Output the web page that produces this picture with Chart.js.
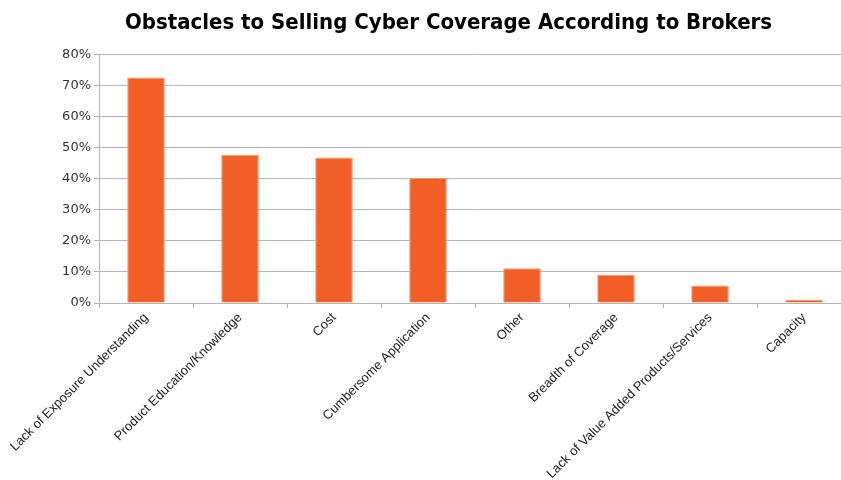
<!DOCTYPE html>
<html>
<head>
<meta charset="utf-8">
<script src="https://cdn.jsdelivr.net/npm/chart.js@4/dist/chart.umd.min.js"></script>
<style>
    html, body { margin: 0; padding: 0; background: #fff; overflow: hidden; }
    #wrap { width: 851px; height: 480px; }
</style>
</head>
<body>
<div id="wrap"><canvas id="graphObstacles"></canvas></div>
<script>
var titre = "Obstacles to Selling Cyber Coverage According to Brokers";

var categories = [
    "Lack of Exposure Understanding",
    "Product Education/Knowledge",
    "Cost",
    "Cumbersome Application",
    "Other",
    "Breadth of Coverage",
    "Lack of Value Added Products/Services",
    "Capacity"
];

var pourcentages = [72.6, 47.7, 46.8, 40.2, 11.2, 9.1, 5.6, 1.0];

var yMax = 80;
var yPas = 10;

var orange = "#f15f26";
var grille = "#b4b4b4";

// le titre de la référence est un peu décalé vers la droite
var decalageTitre = {
    id: 'decalageTitre',
    afterLayout: function (chart) {
        if (chart.titleBlock) {
            chart.titleBlock.left += 23;
            chart.titleBlock.right += 23;
        }
    }
};

new Chart(document.getElementById("graphObstacles").getContext('2d'), {
    type: 'bar',
    data: {
        labels: categories,
        datasets: [{
            data: pourcentages,
            backgroundColor: orange,
            borderColor: "#f59a74",
            borderWidth: 1,
            barPercentage: 0.4,
            categoryPercentage: 1
        }]
    },
    plugins: [decalageTitre],
    options: {
        responsive: true,
        maintainAspectRatio: false,
        animation: false,
        layout: { padding: { left: 0, right: 0, top: 0, bottom: 0 } },
        plugins: {
            legend: { display: false },
            tooltip: { enabled: false },
            title: {
                display: true,
                text: titre,
                color: "#000",
                font: { family: "'Liberation Sans Narrow', 'DejaVu Sans Condensed', sans-serif", size: 22, weight: 'bold' },
                padding: { top: 10, bottom: 18 }
            }
        },
        scales: {
            x: {
                grid: {
                    drawOnChartArea: false,
                    offset: true,
                    color: grille,
                    tickLength: 5
                },
                border: { color: grille },
                ticks: {
                    minRotation: 45,
                    maxRotation: 45,
                    autoSkip: false,
                    color: "#222",
                    padding: 2,
                    font: { family: "'Liberation Sans', sans-serif", size: 13 }
                },
                afterFit: function (s) { s.height = 177; }
            },
            y: {
                min: 0,
                max: yMax,
                grid: { color: grille, tickLength: 5 },
                border: { color: grille },
                ticks: {
                    stepSize: yPas,
                    color: "#333",
                    padding: 3,
                    font: { family: "'DejaVu Sans', sans-serif", size: 13 },
                    callback: function (v) { return v + "%"; }
                },
                afterFit: function (s) { s.width = 99; }
            }
        }
    }
});
</script>
</body>
</html>
